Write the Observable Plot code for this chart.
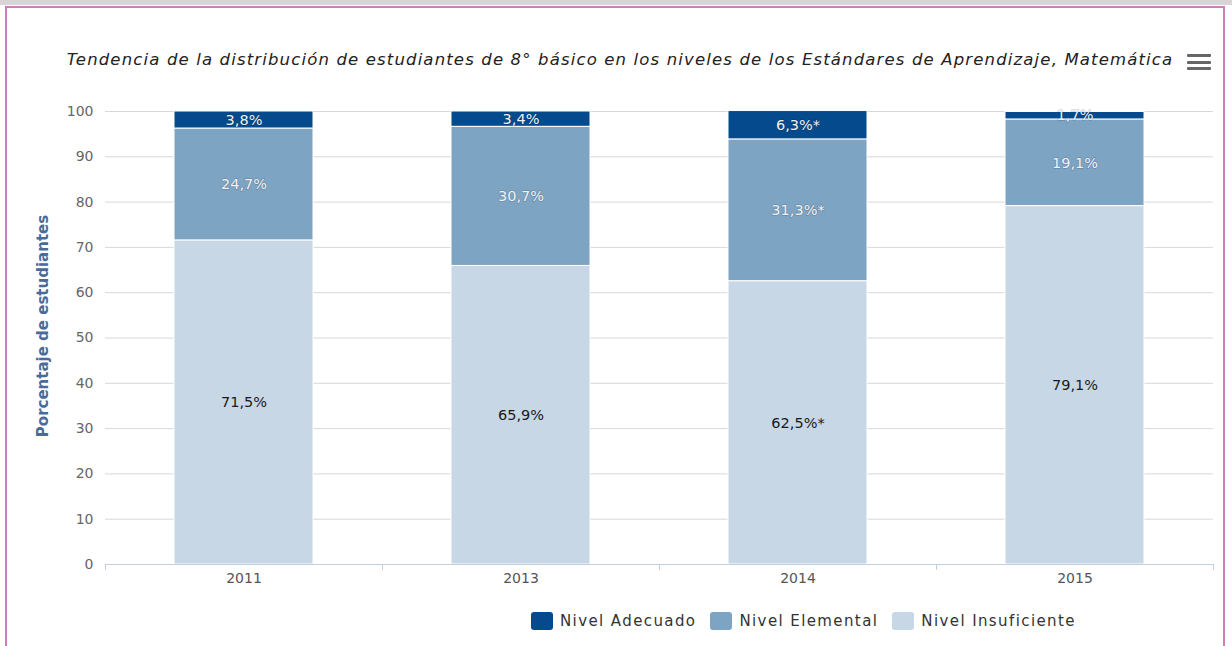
<!DOCTYPE html>
<html><head><meta charset="utf-8">
<script src="https://cdn.jsdelivr.net/npm/d3@7"></script>
<script src="https://cdn.jsdelivr.net/npm/@observablehq/plot@0.6"></script>
<style>
html,body{margin:0;padding:0;background:#fff;}
#wrap{position:relative;width:1232px;height:646px;overflow:hidden;font-family:"DejaVu Sans",sans-serif;}
#topband{position:absolute;left:0;top:0;width:1232px;height:5px;background:#dcd3d9;}
#frame{position:absolute;left:5px;top:6px;width:1220px;height:660px;border:2px solid #c77fbd;box-sizing:border-box;}
#title{position:absolute;left:0;width:1240px;top:50px;text-align:center;font-style:italic;font-size:16.5px;color:#222;white-space:nowrap;letter-spacing:1.15px;}
#menu{position:absolute;left:1187px;top:54px;width:24px;}
#menu div{height:3px;background:#666;margin-bottom:3.5px;border-radius:1px;}
#chart{position:absolute;left:0;top:0;}
#legend{position:absolute;top:612px;left:531px;display:flex;align-items:center;font-size:15px;color:#333;white-space:nowrap;}
.sw{width:22px;height:18px;border-radius:3px;margin-right:7px;}
.it{display:flex;align-items:center;margin-right:14px;letter-spacing:1.4px;}
</style></head>
<body><div id="wrap">
<div id="topband"></div>
<div id="frame"></div>
<div id="chart"></div>
<div id="title">Tendencia de la distribución de estudiantes de 8° básico en los niveles de los Estándares de Aprendizaje, Matemática</div>
<div id="menu"><div></div><div></div><div></div></div>
<div id="legend"></div>
</div>
<script>
const years = ["2011", "2013", "2014", "2015"];
const levels = ["Nivel Adecuado", "Nivel Elemental", "Nivel Insuficiente"];
const colors = ["#054a8c", "#7ea4c4", "#c8d7e6"];
const adecuado = [3.8, 3.4, 6.3, 1.7];
const elemental = [24.7, 30.7, 31.3, 19.1];
const insuficiente = [71.5, 65.9, 62.5, 79.1];
const labelsAdecuado = ["3,8%", "3,4%", "6,3%*", "1,7%"];
const labelsElemental = ["24,7%", "30,7%", "31,3%*", "19,1%"];
const labelsInsuficiente = ["71,5%", "65,9%", "62,5%*", "79,1%"];
const yTicks = [0, 10, 20, 30, 40, 50, 60, 70, 80, 90, 100];

const series = [
  {level: levels[0], values: adecuado, labels: labelsAdecuado},
  {level: levels[1], values: elemental, labels: labelsElemental},
  {level: levels[2], values: insuficiente, labels: labelsInsuficiente}
];
const rows = [];
years.forEach((yr, i) => series.forEach(s => rows.push({year: yr, level: s.level, value: s.values[i], label: s.labels[i]})));
const stackOrder = [levels[2], levels[1], levels[0]];

const boundaryTicks = (index, scales, values, dims) => {
  const x = scales.x;
  const step = x.step ? x.step() : (dims.width - dims.marginLeft - dims.marginRight) / years.length;
  const y0 = scales.y(0);
  const g = d3.create("svg:g");
  const xs = [dims.marginLeft, ...years.map(d => x(d) + x.bandwidth() + (step - x.bandwidth()) / 2)];
  for (const xv of xs) {
    g.append("line").attr("x1", Math.round(xv) + 0.5).attr("x2", Math.round(xv) + 0.5)
      .attr("y1", y0).attr("y2", y0 + 6).attr("stroke", "#c0d0e0");
  }
  return g.node();
};

const plot = Plot.plot({
  width: 1232,
  height: 600,
  marginTop: 111,
  marginBottom: 36,
  marginLeft: 105,
  marginRight: 19,
  style: {fontFamily: "DejaVu Sans, sans-serif", background: "transparent", overflow: "visible"},
  x: {domain: years, paddingInner: 0.5, paddingOuter: 0.25, label: null},
  y: {domain: [0, 100], label: null},
  color: {domain: levels, range: colors},
  marks: [
    Plot.gridY(yTicks, {stroke: "#d8d8d8", strokeOpacity: 1}),
    Plot.axisY(yTicks, {tickSize: 0, tickPadding: 12, fontSize: 14, fill: "#666", letterSpacing: 0.6, label: null}),
    Plot.text(["Porcentaje de estudiantes"], {frameAnchor: "left", textAnchor: "middle", dx: -62, dy: -12, rotate: -90, fontSize: 15, fontWeight: "bold", fill: "#4a6a98"}),
    Plot.barY(rows, Plot.stackY({x: "year", y: "value", z: "level", fill: "level", order: stackOrder, stroke: "white", strokeWidth: 1})),
    Plot.text(rows, Plot.stackY({x: "year", y: "value", z: "level", order: stackOrder, text: "label",
      fill: d => d.level === levels[2] ? "#1a1a1a" : "#f2f2f2",
      stroke: d => d.level === levels[2] ? "none" : "rgba(0,0,0,0.18)", strokeWidth: 1.5,
      fontSize: 14.5, letterSpacing: 1.2})),
    Plot.ruleY([0], {stroke: "#c0d0e0", strokeWidth: 1}),
    boundaryTicks,
    Plot.axisX({tickSize: 0, tickPadding: 9, fontSize: 14, fill: "#555", letterSpacing: 2, label: null})
  ]
});
document.getElementById("chart").appendChild(plot);

const leg = document.getElementById("legend");
levels.forEach((l, i) => {
  const it = document.createElement("div"); it.className = "it";
  const sw = document.createElement("div"); sw.className = "sw"; sw.style.background = colors[i];
  const tx = document.createElement("span"); tx.textContent = l;
  it.appendChild(sw); it.appendChild(tx); leg.appendChild(it);
});
</script>
</body></html>
